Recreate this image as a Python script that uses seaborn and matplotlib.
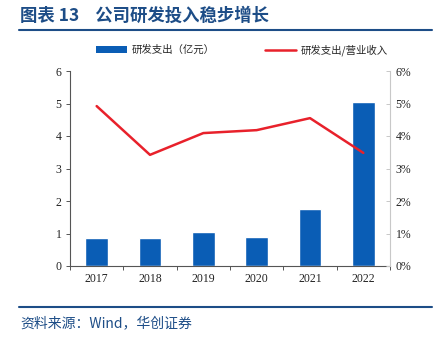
import matplotlib
matplotlib.use("Agg")
import matplotlib.pyplot as plt
import seaborn as sns
import pandas as pd
from matplotlib.lines import Line2D
from matplotlib.patches import Patch
from matplotlib.ticker import FuncFormatter

years = ["2017", "2018", "2019", "2020", "2021", "2022"]
rd_expense = [0.86, 0.86, 1.05, 0.89, 1.75, 5.05]       # 亿元
rd_ratio = [4.92, 3.42, 4.09, 4.18, 4.55, 3.48]          # %

sns.set_theme(style="white")
plt.rcParams['font.family'] = ['Liberation Serif', 'Noto Sans CJK SC']
plt.rcParams['axes.unicode_minus'] = False

df = pd.DataFrame({"year": years, "exp": rd_expense, "ratio": rd_ratio})

BLUE = "#0A5DB5"
RED = "#E8212B"
NAVY = "#1D4D87"

fig = plt.figure(figsize=(4.39, 3.39), dpi=100)
ax = fig.add_axes([70/439, 1-266/339, 320/439, 195/339])

sns.barplot(data=df, x="year", y="exp", color=BLUE, width=0.43, saturation=1, ax=ax)
ax.set_xlim(-0.5, 5.5)
ax.set_ylim(0, 6)
ax.set_yticks(range(0, 7))
ax.set_xlabel("")
ax.set_ylabel("")

ax2 = ax.twinx()
sns.lineplot(data=df, x="year", y="ratio", color=RED, linewidth=1.8, ax=ax2)
ax2.set_ylim(0, 6)
ax2.set_yticks(range(0, 7))
ax2.yaxis.set_major_formatter(FuncFormatter(lambda v, p: f"{int(v)}%"))
ax2.set_ylabel("")
ax2.set_xlim(-0.5, 5.5)

for a in (ax, ax2):
    for s in a.spines.values():
        s.set_visible(False)

ax.spines['left'].set_visible(True)
ax.spines['left'].set_color("#555555")
ax.spines['left'].set_linewidth(0.8)
ax.spines['bottom'].set_visible(True)
ax.spines['bottom'].set_color("#555555")
ax.spines['bottom'].set_linewidth(0.8)
ax2.spines['right'].set_visible(True)
ax2.spines['right'].set_color("#C8C8C8")
ax2.spines['right'].set_linewidth(0.8)

ax.tick_params(axis='y', direction='out', length=3, width=0.7, color="#555555",
               labelsize=8.5, pad=3, labelcolor="#222222", left=True)
ax2.tick_params(axis='y', direction='in', length=3, width=0.7, color="#C8C8C8",
                labelsize=8.5, pad=4, labelcolor="#222222", right=True)
ax.tick_params(axis='x', length=0, labelsize=8.5, pad=5, labelcolor="#222222")
ax.set_xticks([i + 0.5 for i in range(-1, 6)], minor=True)
ax.tick_params(axis='x', which='minor', direction='out', length=3, width=0.7,
               color="#555555", bottom=True)

# legend
leg_prop = {'family': ['Noto Sans CJK SC'], 'size': 7.5}
fig.legend([Patch(facecolor=BLUE, edgecolor='none')], ["研发支出（亿元）"],
           loc='center left', bbox_to_anchor=(96/439, 1-50/339), frameon=False,
           handlelength=3.0, handleheight=0.6, handletextpad=0.4, borderaxespad=0,
           borderpad=0, prop=leg_prop)
fig.legend([Line2D([0], [0], color=RED, linewidth=1.8)], ["研发支出/营业收入"],
           loc='center left', bbox_to_anchor=(265/439, 1-50/339), frameon=False,
           handlelength=3.0, handletextpad=0.4, borderaxespad=0, borderpad=0,
           prop=leg_prop)

# title
fig.text(20/439, 1-16/339, "图表 13    公司研发投入稳步增长", fontsize=12.5, fontweight='bold',
         color=NAVY, va='center', ha='left', family=['Noto Sans CJK SC'])
fig.add_artist(Line2D([19/439, 432/439], [1-30/339, 1-30/339], color=NAVY, linewidth=1.5))
fig.add_artist(Line2D([19/439, 432/439], [1-307/339, 1-307/339], color=NAVY, linewidth=1.5))
fig.text(20/439, 1-323/339, "资料来源：Wind，华创证券", fontsize=10, style='italic',
         color=NAVY, va='center', ha='left', family=['Noto Sans CJK SC', 'Liberation Serif'])

fig.savefig("out.png", dpi=100)
